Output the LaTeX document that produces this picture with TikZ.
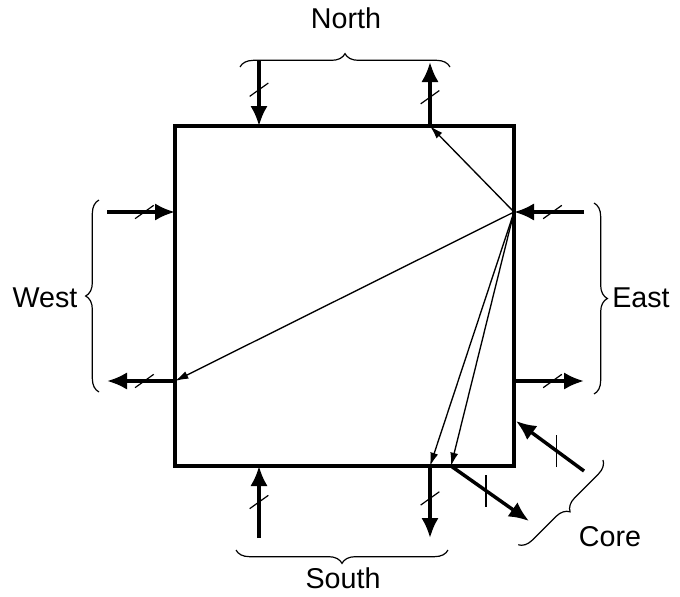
\documentclass[tikz,border=0pt]{standalone}
\usepackage{fontspec}
\setmainfont{Liberation Sans}
\usetikzlibrary{arrows.meta, decorations.markings, decorations.pathreplacing}

\tikzset{
    bus/.style={line width=2.6pt, -{Latex[length=15pt,width=13pt]}},
    link/.style={line width=1pt, -{Latex[length=10pt,width=6pt]}},
    slash/.style={postaction={decorate}, decoration={markings,
        mark=at position #1 with {\pgftransformresetnontranslations
            \draw[-, line width=0.9pt] (-7pt,-5pt) -- (7pt,5pt);}}},
    bar/.style={postaction={decorate}, decoration={markings,
        mark=at position #1 with {\pgftransformresetnontranslations
            \draw[-, line width=0.9pt] (0,-12pt) -- (0,12pt);}}},
    curly/.style={line width=0.9pt, decorate, decoration={brace, amplitude=10pt}},
    side/.style={font=\fontsize{21.5}{26}\selectfont}
}

\begin{document}
\begin{tikzpicture}[x=0.75pt, y=-0.75pt]
    \useasboundingbox (0,0) rectangle (680,596);

    % Router box
    \draw[line width=2.6pt] (175,126) rectangle (514,466);

    % Define the points on the box
    \coordinate (NI) at (259,126);
    \coordinate (NO) at (430,126);
    \coordinate (EI) at (514,212);
    \coordinate (EO) at (514,381);
    \coordinate (WI) at (175,212);
    \coordinate (WO) at (175,381);
    \coordinate (SI) at (259,466);
    \coordinate (SO) at (430,466);
    \coordinate (CO) at (451,466);
    \coordinate (CI) at (516,421);

    % Define the outer ends of the ports
    \coordinate (NIa) at (259,60);
    \coordinate (NOa) at (430,62);
    \coordinate (EIa) at (584,212);
    \coordinate (EOa) at (584,381);
    \coordinate (WIa) at (107,212);
    \coordinate (WOa) at (107,381);
    \coordinate (SIa) at (259,538);
    \coordinate (SOa) at (430,538);
    \coordinate (COa) at (529,521);
    \coordinate (CIa) at (584,471);

    % Ports
    \draw[bus, slash=0.45] (NIa) -- (NI);
    \draw[bus, slash=0.45] (NO) -- (NOa);
    \draw[bus, slash=0.45] (EIa) -- (EI);
    \draw[bus, slash=0.55] (EO) -- (EOa);
    \draw[bus, slash=0.55] (WIa) -- (WI);
    \draw[bus, slash=0.45] (WO) -- (WOa);
    \draw[bus, slash=0.5] (SIa) -- (SI);
    \draw[bus, slash=0.45] (SO) -- (SOa);
    \draw[bus, bar=0.45] (CO) -- (COa);
    \draw[bus, bar=0.4] (CIa) -- (CI);

    % Routes from the east input
    \draw[link] (EI) -- (NO);
    \draw[link] (EI) -- (WO);
    \draw[link] (EI) -- (SO);
    \draw[link] (EI) -- (CO);

    % Braces and labels
    \draw[curly] (240,67) -- (450,67);
    \draw[curly] (594,203) -- (594,394);
    \draw[curly] (99,392) -- (99,200);
    \draw[curly] (448,550) -- (236,550);
    \draw[curly] (603,460) -- (518,545);
    \node[side] (north) at (346,18) {North};
    \node[side] (east) at (641,298) {East};
    \node[side] (west) at (45,298) {West};
    \node[side] (south) at (343,578) {South};
    \node[side] (core) at (610,537) {Core};

\end{tikzpicture}
\end{document}
